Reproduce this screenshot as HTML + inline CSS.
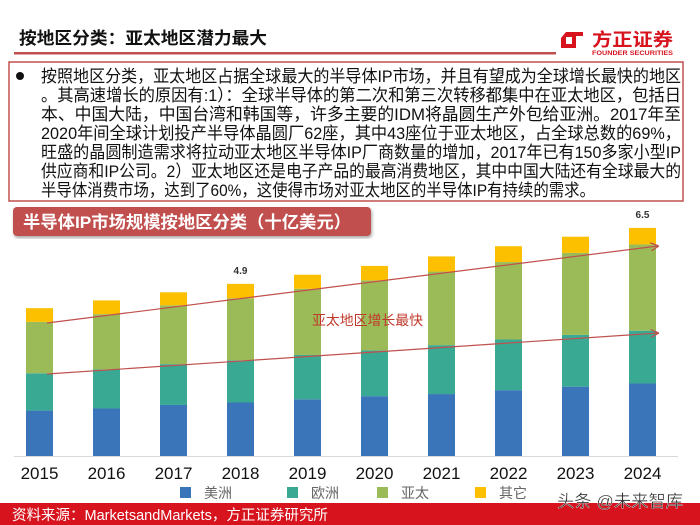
<!DOCTYPE html>
<html><head><meta charset="utf-8"><style>
html,body{margin:0;padding:0;background:#fff;width:700px;height:525px;overflow:hidden}
svg{display:block}
text{font-family:"Liberation Sans","Noto Sans CJK SC",sans-serif}
</style></head><body>
<svg id="chart" width="700" height="525" viewBox="0 0 700 525">
<defs>
<marker id="ah" viewBox="0 0 10 10" refX="9" refY="5" markerWidth="7" markerHeight="7" orient="auto"><path d="M0,0 L10,5 L0,10" fill="none" stroke="#c0504d" stroke-width="1.5"/></marker>
<filter id="sh"><feDropShadow dx="1" dy="2" stdDeviation="1.5" flood-opacity="0.35"/></filter>
</defs>
<text x="19" y="44" font-size="17" font-weight="bold" fill="#111" textLength="248" lengthAdjust="spacingAndGlyphs">按地区分类：亚太地区潜力最大</text>
<rect x="14" y="52" width="542" height="2.5" fill="#c0504d"/>
<g>
<path d="M566,32 L583,32 L583,36 L576,36 L576,48 L561,48 L561,38 Z M566,37 L566,44 L572,44 L572,37 Z" fill="#d7141e" fill-rule="evenodd"/>
<text x="592" y="46" font-size="18" font-weight="bold" fill="#d7141e" textLength="81" lengthAdjust="spacingAndGlyphs">方正证券</text>
<text x="592" y="55" font-size="6.5" font-weight="bold" fill="#d7141e" textLength="81" lengthAdjust="spacingAndGlyphs">FOUNDER SECURITIES</text>
</g>
<rect x="9" y="62" width="674" height="139" fill="#fff" stroke="#c0504d" stroke-width="1.5"/>
<circle cx="20" cy="76" r="4" fill="#111"/>
<g font-size="17" fill="#111">
<text x="41" y="82" textLength="640" lengthAdjust="spacingAndGlyphs">按照地区分类，亚太地区占据全球最大的半导体IP市场，并且有望成为全球增长最快的地区</text>
<text x="41" y="101" textLength="640" lengthAdjust="spacingAndGlyphs">。其高速增长的原因有:1）：全球半导体的第二次和第三次转移都集中在亚太地区，包括日</text>
<text x="41" y="120" textLength="640" lengthAdjust="spacingAndGlyphs">本、中国大陆，中国台湾和韩国等，许多主要的IDM将晶圆生产外包给亚洲。2017年至</text>
<text x="41" y="139" textLength="640" lengthAdjust="spacingAndGlyphs">2020年间全球计划投产半导体晶圆厂62座，其中43座位于亚太地区，占全球总数的69%，</text>
<text x="41" y="158" textLength="640" lengthAdjust="spacingAndGlyphs">旺盛的晶圆制造需求将拉动亚太地区半导体IP厂商数量的增加，2017年已有150多家小型IP</text>
<text x="41" y="177" textLength="640" lengthAdjust="spacingAndGlyphs">供应商和IP公司。2）亚太地区还是电子产品的最高消费地区，其中中国大陆还有全球最大的</text>
<text x="41" y="196" textLength="554" lengthAdjust="spacingAndGlyphs">半导体消费市场，达到了60%，这使得市场对亚太地区的半导体IP有持续的需求。</text>
</g>
<rect x="13" y="207" width="358" height="29" rx="4" fill="#c0504d" filter="url(#sh)"/>
<text x="23" y="228" font-size="17" font-weight="bold" fill="#fff" textLength="328" lengthAdjust="spacingAndGlyphs">半导体IP市场规模按地区分类（十亿美元）</text>
<line x1="14" y1="456.5" x2="678" y2="456.5" stroke="#d9d9d9" stroke-width="1"/>
<g id="bars"></g>
<g id="xlabels"></g>
<line x1="47" y1="374" x2="658" y2="333" stroke="#c0504d" stroke-width="1.2" marker-end="url(#ah)"/>
<line x1="47" y1="323" x2="658" y2="246" stroke="#c0504d" stroke-width="1.2" marker-end="url(#ah)"/>
<text x="312" y="325" font-size="13.5" fill="#c0392b" textLength="111" lengthAdjust="spacingAndGlyphs">亚太地区增长最快</text>
<g id="legend"></g>
<rect x="0" y="503" width="700" height="22" fill="#d7141e"/>
<text x="12" y="520" font-size="14.5" fill="#fff">资料来源：MarketsandMarkets，方正证券研究所</text>
<text x="557" y="507" font-size="17" fill="#333" stroke="#fff" stroke-width="0.3" textLength="126" lengthAdjust="spacingAndGlyphs">头条 @未来智库</text>
</svg>
<script>
const years = ['2015','2016','2017','2018','2019','2020','2021','2022','2023','2024'];
const americas = [1.29,1.35,1.45,1.52,1.61,1.70,1.76,1.87,1.97,2.06];
const europe = [1.06,1.11,1.16,1.20,1.26,1.30,1.39,1.44,1.47,1.50];
const apac = [1.46,1.57,1.67,1.76,1.88,1.99,2.09,2.20,2.33,2.45];
const others = [0.39,0.39,0.37,0.41,0.40,0.41,0.43,0.45,0.46,0.47];
const seriesNames = ['美洲','欧洲','亚太','其它'];
const totalLabels = [null,null,null,'4.9',null,null,null,null,null,'6.5'];

const NS='http://www.w3.org/2000/svg';
const colors=['#3a75b9','#3aa993','#9bbb59','#fcc000'];
const base=456, ppu=35.2, x0=39.5, step=67, bw=27;
function xs(i){return x0+i*step;}
function ys(v){return base-v*ppu;}
const series=[americas,europe,apac,others];
const segNames=['bar-americas','bar-europe','bar-apac','bar-others'];
const gb=document.getElementById('bars');
years.forEach((y,i)=>{
  let cum=0;
  series.forEach((s,k)=>{
    const r=document.createElementNS(NS,'rect');
    const top=ys(cum+s[i]), bot=ys(cum);
    r.setAttribute('x',xs(i)-bw/2);r.setAttribute('y',top);
    r.setAttribute('width',bw);r.setAttribute('height',bot-top);
    r.setAttribute('fill',colors[k]);
    
    
    gb.appendChild(r);
    cum+=s[i];
  });
  if(totalLabels[i]){
    const t=document.createElementNS(NS,'text');
    t.setAttribute('x',xs(i));t.setAttribute('y',ys(cum)-10);
    t.setAttribute('text-anchor','middle');t.setAttribute('font-size','10');
    t.setAttribute('font-weight','bold');t.setAttribute('fill','#333');
    t.textContent=totalLabels[i];
    
    
    gb.appendChild(t);
  }
  const l=document.createElementNS(NS,'text');
  l.setAttribute('x',xs(i));l.setAttribute('y',479);
  l.setAttribute('text-anchor','middle');l.setAttribute('font-size','17');
  l.setAttribute('fill','#111');
  l.textContent=y;
  
  
  document.getElementById('xlabels').appendChild(l);
});
const legX=[180,287,377,475];
const lg=document.getElementById('legend');
seriesNames.forEach((n,k)=>{
  const g=document.createElementNS(NS,'g');
  
  
  const r=document.createElementNS(NS,'rect');
  r.setAttribute('x',legX[k]);r.setAttribute('y',487);r.setAttribute('width',11);r.setAttribute('height',11);
  r.setAttribute('fill',colors[k]);
  const t=document.createElementNS(NS,'text');
  t.setAttribute('x',legX[k]+24);t.setAttribute('y',498);t.setAttribute('font-size','14');t.setAttribute('fill','#666');
  t.textContent=n;
  g.appendChild(r);g.appendChild(t);lg.appendChild(g);
});
</script>
</body></html>
